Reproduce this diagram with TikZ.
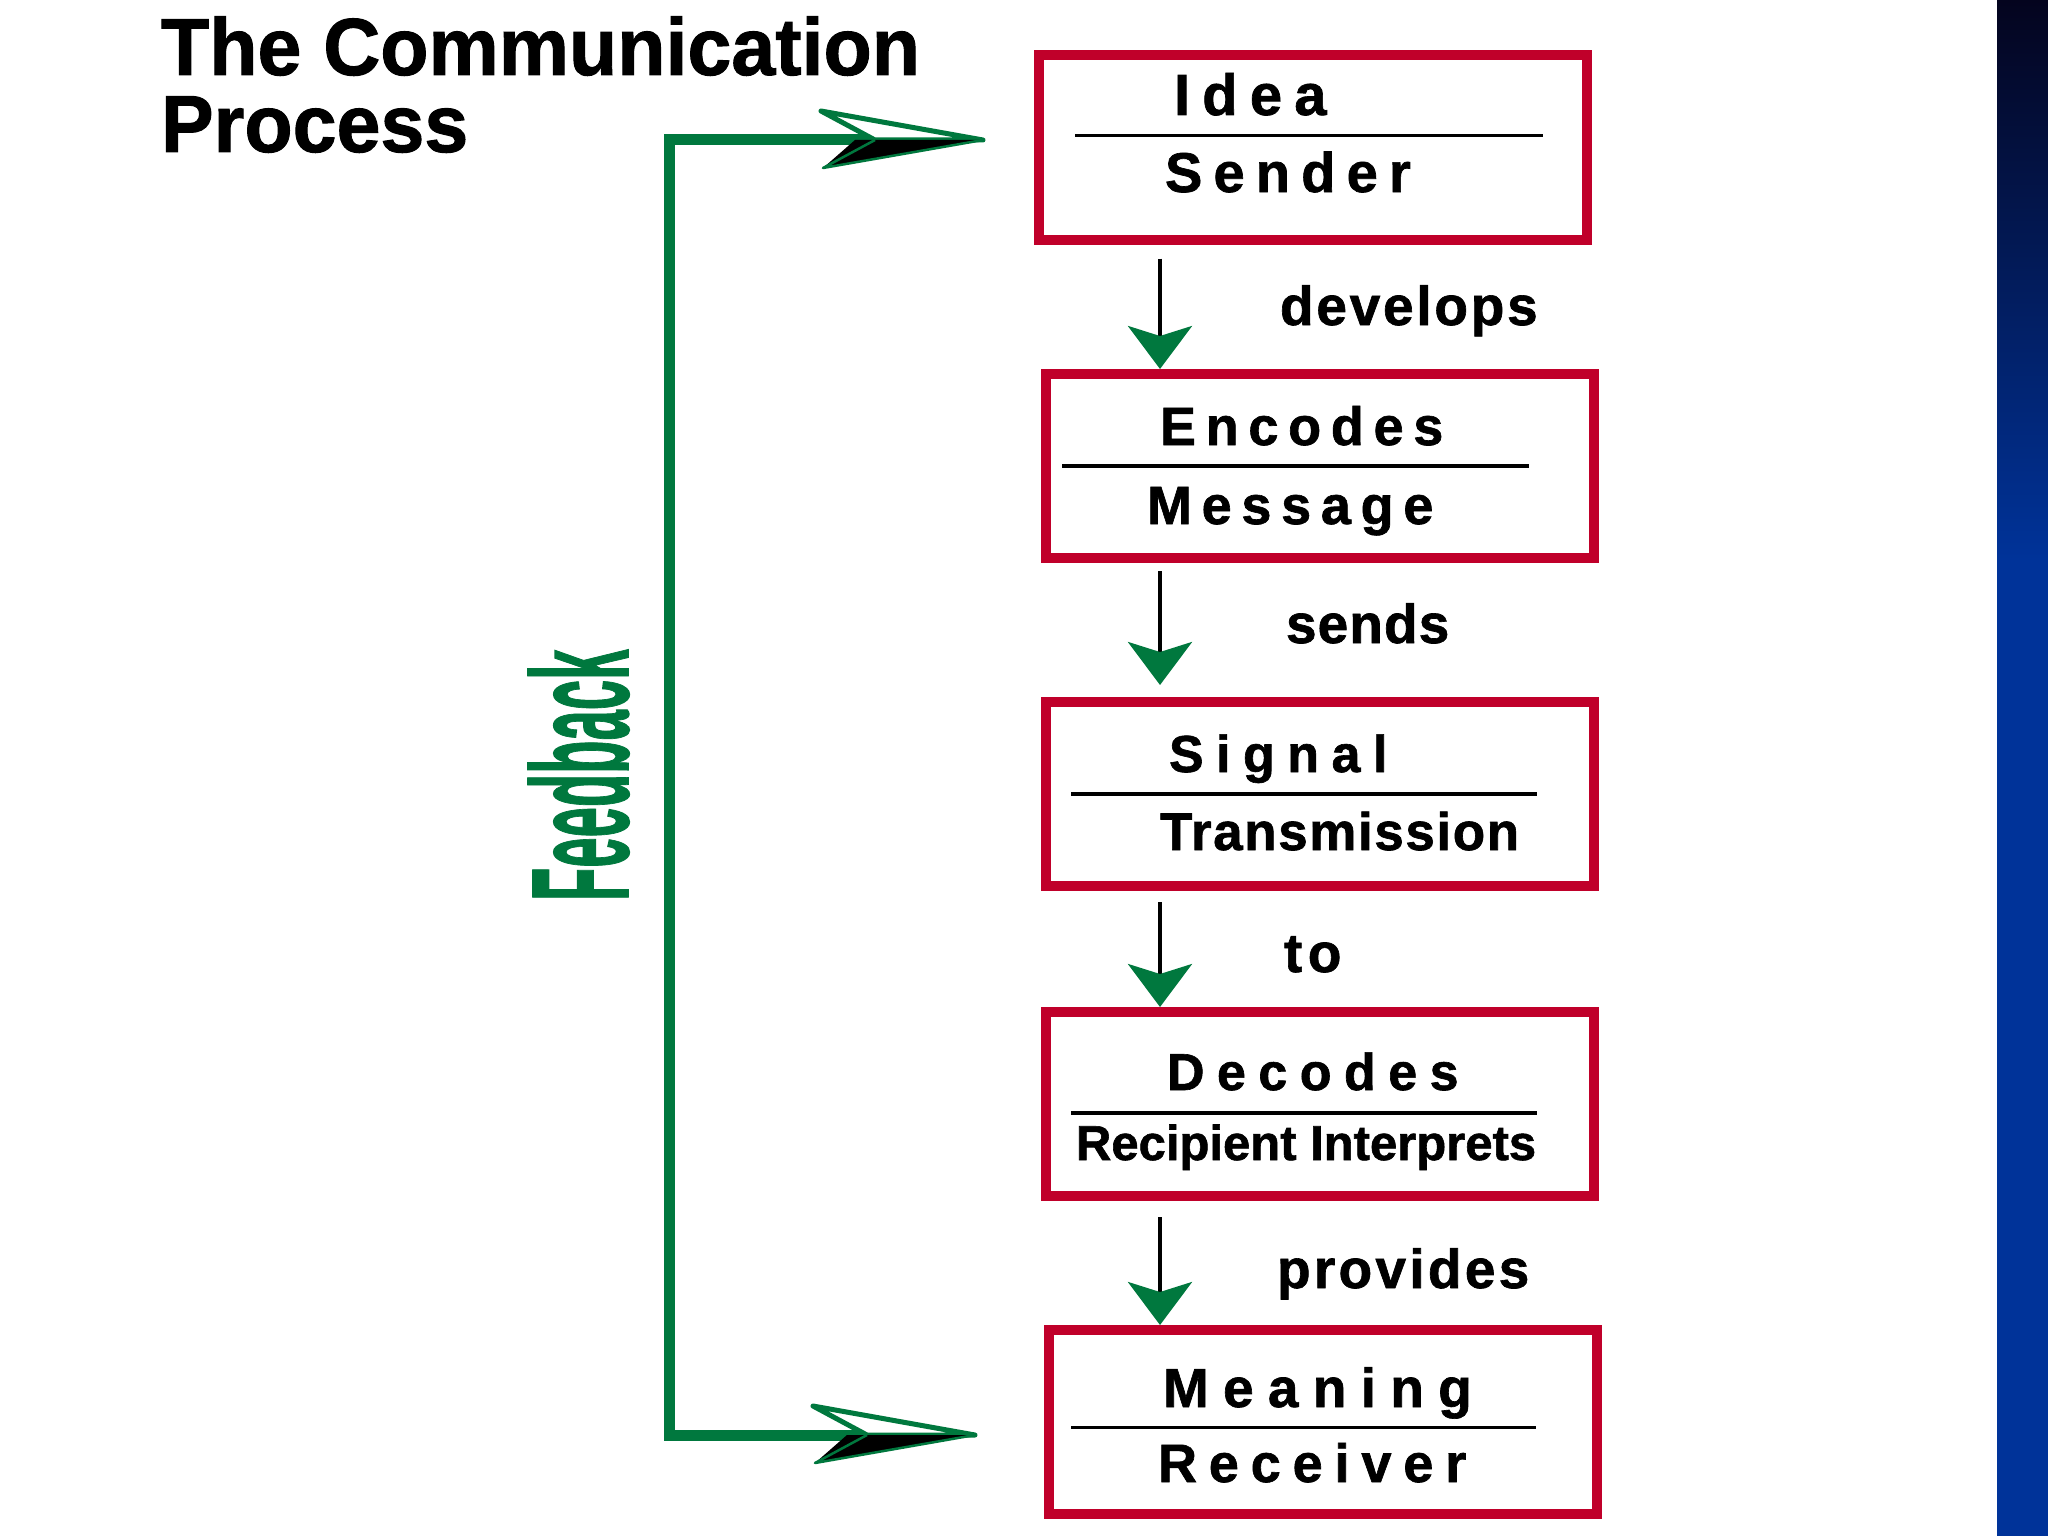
\documentclass[tikz,border=0pt]{standalone}
\usepackage{fontspec}
\usepackage{graphicx}
\setmainfont{Liberation Sans}
\usetikzlibrary{arrows.meta}
\definecolor{boxred}{RGB}{192,0,42}
\definecolor{fbgreen}{RGB}{0,120,62}
\definecolor{stripdark}{RGB}{4,4,30}
\definecolor{stripblue}{RGB}{0,51,153}
\newcommand\btxt[3]{{\fontsize{#1pt}{#1pt}\selectfont\bfseries\addfontfeature{LetterSpace=#2,FakeBold=1.2}#3}}
\tikzset{
  stagebox/.style={draw=boxred, line width=10pt, fill=white, minimum width=548pt, minimum height=184pt, inner sep=0pt},
  word/.style={anchor=base west, inner sep=0pt, outer sep=0pt},
  divider/.style={draw=black, line width=#1},
  flow/.style={draw=black, line width=4pt, -{Stealth[length=43pt,width=64pt,inset=10pt,color=fbgreen]}},
  fbline/.style={draw=fbgreen, line width=11pt},
  fbhead/.pic={
    \filldraw[fill=white, draw=fbgreen, line width=5pt, line join=round] (-162,-29) -- (0,0) -- (-108,0) -- cycle;
    \fill[black] (-128,0) -- (0,0) -- (-160,28) -- cycle;
    \draw[fbgreen, line width=2.5pt, line join=round] (-108,0) -- (-160,28) -- (0,0);
  }
}
\begin{document}
\begin{tikzpicture}[x=1pt,y=-1pt]
\useasboundingbox (0,0) rectangle (2048,1536);
\fill[white] (0,0) rectangle (2048,1536);
% right strip
\shade[top color=stripdark, bottom color=stripblue] (1997,0) rectangle (2048,560);
\fill[stripblue] (1997,559) rectangle (2048,1536);

% title
\node[word] (title) at (161,75) {\scalebox{0.975}[1]{\btxt{81}{0}{The Communication}}};
\node[word] (title2) at (161,152) {\scalebox{0.975}[1]{\btxt{81}{0}{Process}}};

% boxes
\node[stagebox] (b1) at (1313,147.5) {};
\node[stagebox] (b2) at (1320,466) {};
\node[stagebox] (b3) at (1320,794) {};
\node[stagebox] (b4) at (1320,1104) {};
\node[stagebox] (b5) at (1323,1422) {};

% dividers
\draw[divider=3pt] (1075,136) -- (1543,136);
\draw[divider=4pt] (1062,466) -- (1529,466);
\draw[divider=4pt] (1071,794) -- (1537,794);
\draw[divider=4pt] (1071,1113) -- (1537,1113);
\draw[divider=3pt] (1071,1427) -- (1536,1427);

% box texts
\node[word] (t1a) at (1174,115) {\btxt{58}{21}{Idea}};
\node[word] (t1b) at (1165,192) {\btxt{56}{20}{Sender}};
\node[word] (t2a) at (1160,445) {\btxt{54}{18}{Encodes}};
\node[word] (t2b) at (1147,524) {\btxt{54}{18}{Message}};
\node[word] (t3a) at (1169,772) {\btxt{52}{24}{Signal}};
\node[word] (t3b) at (1160,850) {\btxt{53}{3}{Transmission}};
\node[word] (t4a) at (1167,1090) {\btxt{52}{24}{Decodes}};
\node[word] (t4b) at (1076,1160) {\btxt{49}{0}{Recipient Interprets}};
\node[word] (t5a) at (1163,1407) {\btxt{55}{26}{Meaning}};
\node[word] (t5b) at (1158,1482) {\btxt{54}{22}{Receiver}};

% flow arrows
\coordinate (ax) at (1160,0);
\draw[flow, shorten <=14pt] (b1.south -| ax) -- (b2.north -| ax);
\draw[flow, shorten <=8pt, shorten >=12pt] (b2.south -| ax) -- (b3.north -| ax);
\draw[flow, shorten <=11pt] (b3.south -| ax) -- (b4.north -| ax);
\draw[flow, shorten <=16pt] (b4.south -| ax) -- (b5.north -| ax);

% labels
\node[word] (l1) at (1280,325) {\btxt{55}{5}{develops}};
\node[word] (l2) at (1286,643) {\btxt{55}{2}{sends}};
\node[word] (l3) at (1284,972) {\btxt{55}{10}{to}};
\node[word] (l4) at (1277,1288) {\btxt{55}{6}{provides}};

% feedback loop
\coordinate (fbtop) at (983,140);
\coordinate (fbbot) at (975,1435);
\coordinate (fbx) at (669,0);
\draw[fbline, line join=miter] ([xshift=-106pt]fbbot) -- (fbbot -| fbx) -- (fbtop -| fbx) -- ([xshift=-106pt]fbtop);
\pic at (fbtop) {fbhead};
\pic at (fbbot) {fbhead};
\node[word, rotate=90, text=fbgreen] (fb) at (628,901) {\scalebox{0.395}[1]{\btxt{138}{0}{Feedback}}};
\end{tikzpicture}
\end{document}
